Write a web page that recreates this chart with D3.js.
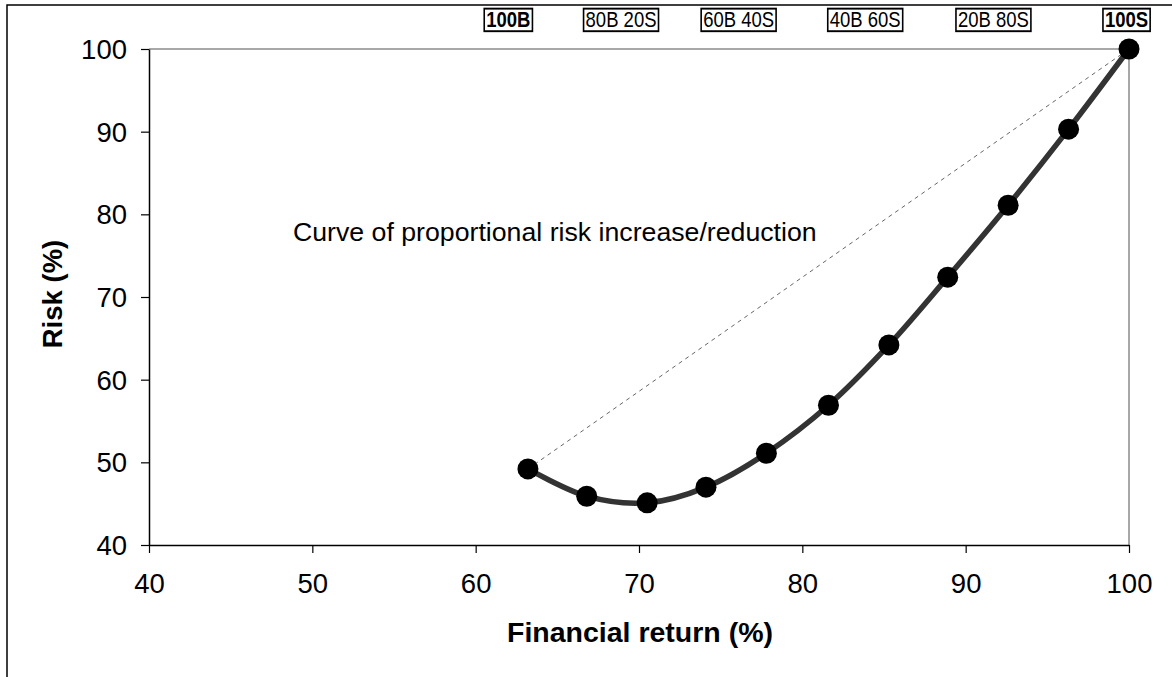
<!DOCTYPE html>
<html>
<head>
<meta charset="utf-8">
<script src="https://cdn.jsdelivr.net/npm/d3@7/dist/d3.min.js"></script>
<style>
  html, body { margin: 0; padding: 0; background: #fff; }
  svg { display: block; font-family: Arial, "Liberation Sans", sans-serif; }
</style>
</head>
<body>
<svg id="chart" width="1172" height="677"></svg>
<script>
// ---- data ----
const financialReturn = [63.2, 66.8, 70.5, 74.1, 77.8, 81.6, 85.3, 88.9, 92.6, 96.3, 100];
const risk            = [49.2, 45.9, 45.1, 47.0, 51.1, 56.9, 64.2, 72.4, 81.1, 90.3, 100];
const xTicks = [40, 50, 60, 70, 80, 90, 100];
const yTicks = [40, 50, 60, 70, 80, 90, 100];
const mixLabels = ["100B", "80B 20S", "60B 40S", "40B 60S", "20B 80S", "100S"];
const mixBold   = [true, false, false, false, false, true];
const mixLabelReturn = [62.0, 68.9, 76.1, 83.85, 91.7, 99.85];
const annotation = "Curve of proportional risk increase/reduction";
const xTitle = "Financial return (%)";
const yTitle = "Risk (%)";

// ---- layout ----
const svg = d3.select("#chart");
const L = 149, R = 1129, T = 49, B = 545;
const x = d3.scaleLinear().domain([40, 100]).range([L, R]);
const y = d3.scaleLinear().domain([40, 100]).range([B, T]);

// outer frame
svg.append("path").attr("d", `M7,680 L7,5 L1180,5`)
  .attr("fill", "none").attr("stroke", "#000").attr("stroke-width", 1.5);

// plot border top/right (gray)
svg.append("path").attr("d", `M${L},${T} L${R},${T} L${R},${B}`)
  .attr("fill", "none").attr("stroke", "#8c8c8c").attr("stroke-width", 1.5);

// axes
const xAxis = svg.append("g").attr("transform", `translate(0,${B})`)
  .call(d3.axisBottom(x).tickValues(xTicks).tickSize(8).tickSizeOuter(0).tickPadding(20));
const yAxis = svg.append("g").attr("transform", `translate(${L},0)`)
  .call(d3.axisLeft(y).tickValues(yTicks).tickSize(8).tickSizeOuter(0).tickPadding(14));
[xAxis, yAxis].forEach(g => {
  g.select(".domain").attr("stroke", "#000").attr("stroke-width", 1.5);
  g.selectAll(".tick line").attr("stroke", "#000").attr("stroke-width", 1.2);
  g.selectAll("text").attr("font-size", 27.5).attr("fill", "#000")
    .attr("font-family", "Arial, 'Liberation Sans', sans-serif");
});
xAxis.selectAll("text").attr("dy", null).attr("y", 48);
yAxis.selectAll("text").attr("dy", "0.35em");

// axis titles
svg.append("text").attr("x", 640).attr("y", 642).attr("text-anchor", "middle")
  .attr("font-size", 28.5).attr("font-weight", "bold").text(xTitle);
svg.append("text").attr("transform", "translate(62,294) rotate(-90)")
  .attr("text-anchor", "middle").attr("font-size", 27.5).attr("font-weight", "bold").text(yTitle);

// proportional dashed line (first to last point)
const n = financialReturn.length;
svg.append("line")
  .attr("x1", x(financialReturn[0])).attr("y1", y(risk[0]))
  .attr("x2", x(financialReturn[n - 1])).attr("y2", y(risk[n - 1]))
  .attr("stroke", "#555").attr("stroke-width", 0.9).attr("stroke-dasharray", "4,4");

// annotation
svg.append("text").attr("x", 293).attr("y", 241).attr("font-size", 26.7).attr("fill", "#000")
  .text(annotation);

// smooth curve
const pts = financialReturn.map((v, i) => [v, risk[i]]);
const line = d3.line().x(d => x(d[0])).y(d => y(d[1])).curve(d3.curveCatmullRom.alpha(0));
svg.append("path").datum(pts).attr("d", line)
  .attr("fill", "none").attr("stroke", "#333").attr("stroke-width", 5.5)
  .attr("stroke-linejoin", "round");

// markers
svg.selectAll("circle.pt").data(pts).join("circle").attr("class", "pt")
  .attr("cx", d => x(d[0])).attr("cy", d => y(d[1])).attr("r", 10.5).attr("fill", "#000");

// mix labels with boxes
mixLabels.forEach((lab, i) => {
  const g = svg.append("g").attr("transform", `translate(${x(mixLabelReturn[i])},27) scale(1,1.2)`);
  const t = g.append("text").attr("text-anchor", "middle").attr("font-size", 18.5)
    .attr("font-weight", mixBold[i] ? "bold" : "normal").attr("fill", "#000").text(lab);
  const bb = t.node().getBBox();
  g.insert("rect", "text")
    .attr("x", bb.x - 2).attr("y", -15.3).attr("width", bb.width + 4).attr("height", 18.8)
    .attr("fill", "#fff").attr("stroke", "#000").attr("stroke-width", 1.6);
});
</script>
</body>
</html>
